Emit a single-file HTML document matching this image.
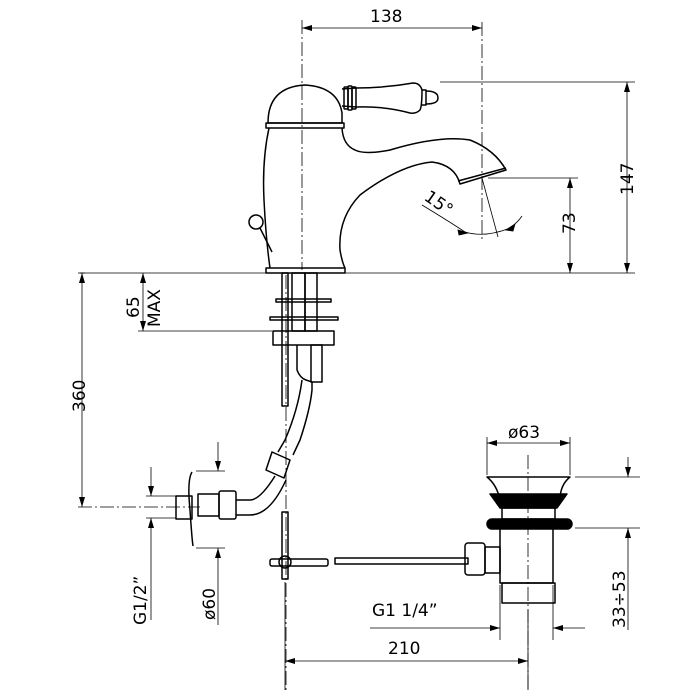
<!DOCTYPE html>
<html><head><meta charset="utf-8"><style>
html,body{margin:0;padding:0;background:#fff;}
svg{display:block;}
text{font-family:"DejaVu Sans","Liberation Sans",sans-serif;font-size:17px;fill:#000;}
</style></head><body>
<svg width="700" height="700" viewBox="0 0 700 700" xmlns="http://www.w3.org/2000/svg">
<defs>
<marker id="a" viewBox="0 0 10 6" refX="10" refY="3" markerWidth="10" markerHeight="6" orient="auto-start-reverse" markerUnits="userSpaceOnUse"><path d="M0,0L10,3L0,6z" fill="#000"/></marker>
</defs>
<g stroke="#000" stroke-width="0.8" fill="none">
<line x1="302" y1="20" x2="302" y2="270" stroke-dasharray="14,3,2,3"/>
<line x1="286" y1="275" x2="286" y2="690" stroke-dasharray="14,3,2,3"/>
<line x1="482" y1="22" x2="482" y2="240" stroke-dasharray="14,3,2,3"/>
<line x1="528" y1="455" x2="528" y2="690" stroke-dasharray="14,3,2,3"/>
<line x1="78" y1="507" x2="200" y2="507" stroke-dasharray="14,3,2,3"/>
<line x1="302" y1="28" x2="482" y2="28" marker-start="url(#a)" marker-end="url(#a)"/>
<line x1="80" y1="273" x2="635" y2="273"/>
<line x1="440" y1="82" x2="635" y2="82"/>
<line x1="488" y1="178" x2="578" y2="178"/>
<line x1="570" y1="178" x2="570" y2="273" marker-start="url(#a)" marker-end="url(#a)"/>
<line x1="627" y1="82" x2="627" y2="273" marker-start="url(#a)" marker-end="url(#a)"/>
<line x1="482" y1="178" x2="498" y2="237"/>
<path d="M422,205 Q450,222 465,232 Q485,238 510,228 Q518,222 522,216" />
<path d="M458,230l10,3l-9,2z M506,230l9,-6l-2,7z" fill="#000"/>
<line x1="78" y1="273" x2="85" y2="273"/>
<line x1="82" y1="273" x2="82" y2="507" marker-start="url(#a)" marker-end="url(#a)"/>
<line x1="138" y1="331" x2="272" y2="331"/>
<line x1="143" y1="273" x2="143" y2="331" marker-start="url(#a)" marker-end="url(#a)"/>
<line x1="146" y1="496" x2="176" y2="496"/><line x1="146" y1="518" x2="176" y2="518"/>
<line x1="151" y1="467" x2="151" y2="496" marker-end="url(#a)"/>
<line x1="151" y1="620" x2="151" y2="518" marker-end="url(#a)"/>
<line x1="196" y1="471" x2="225" y2="471"/><line x1="196" y1="548" x2="225" y2="548"/>
<line x1="218" y1="442" x2="218" y2="471" marker-end="url(#a)"/>
<line x1="218" y1="625" x2="218" y2="548" marker-end="url(#a)"/>
<line x1="487" y1="437" x2="487" y2="475"/><line x1="570" y1="437" x2="570" y2="475"/>
<line x1="487" y1="443" x2="570" y2="443" marker-start="url(#a)" marker-end="url(#a)"/>
<line x1="575" y1="477" x2="640" y2="477"/><line x1="575" y1="528" x2="640" y2="528"/>
<line x1="628" y1="457" x2="628" y2="477" marker-end="url(#a)"/>
<line x1="628" y1="630" x2="628" y2="528" marker-end="url(#a)"/>
<line x1="500" y1="585" x2="500" y2="640"/><line x1="553" y1="585" x2="553" y2="640"/>
<line x1="370" y1="628" x2="500" y2="628" marker-end="url(#a)"/>
<line x1="585" y1="628" x2="553" y2="628" marker-end="url(#a)"/>
<line x1="285" y1="582" x2="285" y2="690"/><line x1="528" y1="610" x2="528" y2="690"/>
<line x1="285" y1="661" x2="528" y2="661" marker-start="url(#a)" marker-end="url(#a)"/>
</g>
<g stroke="#000" stroke-width="1.5" fill="none" stroke-linejoin="round">
<path d="M268,123 Q268,87 305,85 Q338,87 342,113 L342,123 Z"/>
<rect x="266" y="123" width="78" height="5"/>
<path d="M269,128 Q262,160 264,200 Q266,240 270,268"/>
<path d="M342,128 Q343,145 355,150 Q365,155 390,150 Q440,135 470,140 Q495,150 506,170 L460,184 Q455,165 432,162 Q400,165 360,195 Q338,218 340,250 Q342,262 345,268"/>
<line x1="458" y1="181" x2="506" y2="168"/>
<rect x="266" y="268" width="79" height="5"/>
<!-- handle -->
<path d="M342,89 L356,88 Q385,88 413,83 Q420,83 422,90 Q422,106 420,110 Q416,114 410,113 Q385,106 356,107 L342,106"/>
<rect x="344" y="87" width="4" height="22" rx="1"/>
<rect x="348" y="86" width="4" height="24" rx="1"/>
<rect x="352" y="87" width="4" height="22" rx="1"/>
<path d="M422,90 L426,90 L426,105 L422,105 M426,91 Q438,91 438,98 Q438,104 426,104"/>
<circle cx="256" cy="222" r="7"/>
<path d="M260,228 L272,252"/>
<rect x="282" y="273" width="6" height="133"/>
<rect x="292" y="273" width="13" height="58"/>
<rect x="305" y="273" width="12" height="58"/>
<rect x="276" y="299" width="55" height="3"/>
<rect x="270" y="317" width="68" height="3"/>
<rect x="273" y="331" width="61" height="14"/>
<rect x="311" y="345" width="11" height="37"/>
<path d="M297,345 L297,370 Q300,378 306,380 L312,382 L312,390 Q310,410 300,440 L293,455 M302,380 Q298,410 285,440 L278,452"/>
<path d="M272,452 l18,8 l-6,18 l-18,-8 z"/>
<path d="M275,476 Q260,500 250,500 L236,500 M286,480 Q270,515 250,515 L236,515"/>
<rect x="219" y="491" width="17" height="28" rx="2"/>
<rect x="198" y="494" width="21" height="22"/>
<rect x="176" y="496" width="16" height="23"/>
<path d="M192,472 Q187,480 190,510 Q192,540 193,546"/>
<rect x="282" y="512" width="6" height="67"/>
<rect x="270" y="559" width="58" height="7" rx="2"/>
<circle cx="285" cy="562" r="6"/>
<rect x="335" y="558" width="133" height="6"/>
<path d="M487,477 L570,477 Q560,485 560,500 L500,500 Q497,485 487,477 Z"/>
<path d="M490,494 L567,494 L557,508 L500,508 Z" fill="#000"/>
<rect x="502" y="508" width="53" height="11"/>
<rect x="487" y="519" width="85" height="10" rx="5" fill="#000"/>
<path d="M500,529 L500,583 L553,583 L553,529"/>
<rect x="502" y="583" width="53" height="20"/>
<rect x="485" y="547" width="15" height="26"/>
<rect x="465" y="543" width="20" height="32" rx="3"/>
</g>
<g>
<text x="370" y="22">138</text>
<text x="421" y="206" transform="rotate(35 433 206)">15°</text>
<text transform="translate(575,234) rotate(-90)">73</text>
<text transform="translate(633,195) rotate(-90)">147</text>
<text transform="translate(85,412) rotate(-90)">360</text>
<text transform="translate(139,318) rotate(-90)">65</text>
<text transform="translate(160,327) rotate(-90)">MAX</text>
<text transform="translate(146,625) rotate(-90)">G1/2”</text>
<text transform="translate(215,620) rotate(-90)">ø60</text>
<text x="508" y="438">ø63</text>
<text transform="translate(625,628) rotate(-90)">33÷53</text>
<text x="372" y="616">G1  1/4”</text>
<text x="388" y="654">210</text>
</g>
</svg>
</body></html>
